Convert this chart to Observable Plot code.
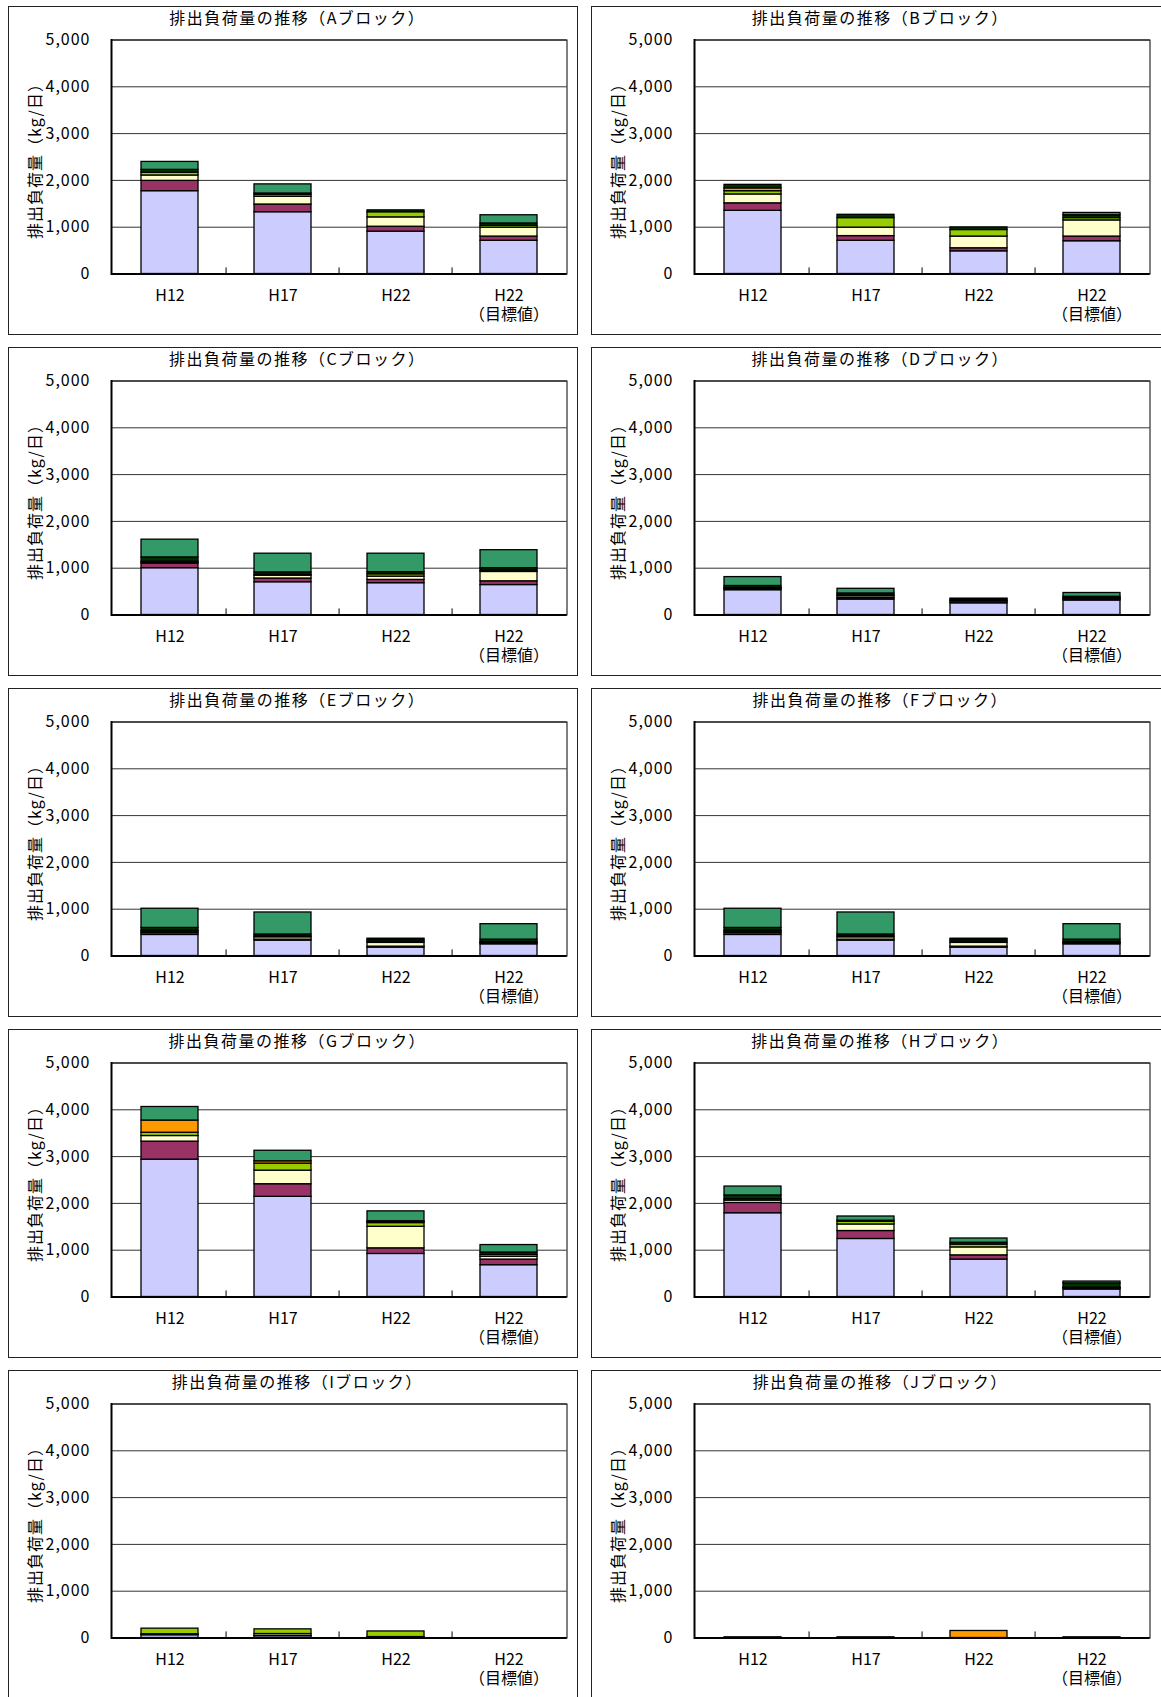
<!DOCTYPE html>
<html>
<head>
<meta charset="utf-8">
<script src="https://cdn.jsdelivr.net/npm/d3@7"></script>
<script src="https://cdn.jsdelivr.net/npm/@observablehq/plot@0.6"></script>
<style>
  html, body { margin: 0; padding: 0; background: #fff; }
  body { width: 1161px; height: 1697px; position: relative; overflow: hidden; font-family: 'Noto Sans CJK JP', 'Noto Sans', sans-serif; }
  .panel { position: absolute; width: 570px; height: 329px; box-sizing: border-box; border: 1.5px solid #222; background: #fff; }
  .panel.right { width: 576px; }
  .panel svg { display: block; }
</style>
</head>
<body>
<div id="root"></div>
<script>
// ---- data ----
const categories = ["H12", "H17", "H22", "H22目標値"];
const categoryLabels = ["H12", "H17", "H22", "H22\n（目標値）"];
const seriesNames = ["系列1", "系列2", "系列3", "系列4", "系列5", "系列6", "系列7"];
const seriesColors = ["#CCCCFF", "#993366", "#FFFFCC", "#99CC00", "#FF9900", "#003300", "#339966"];
const blockNames = ["A", "B", "C", "D", "E", "F", "G", "H", "I", "J"];
const yTicks = [0, 1000, 2000, 3000, 4000, 5000];
const yLabel = "排出負荷量（kg/日）";

// rows = series (bottom → top), columns = categories (kg/日)
const loadA = [
  [1770, 1320, 905, 710],
  [220, 165, 105, 90],
  [115, 165, 200, 190],
  [60, 40, 110, 40],
  [0, 0, 0, 0],
  [60, 30, 40, 50],
  [170, 195, 0, 175]
];
const loadB = [
  [1350, 710, 485, 700],
  [160, 100, 65, 100],
  [190, 180, 250, 345],
  [70, 205, 140, 50],
  [60, 0, 0, 0],
  [75, 70, 55, 60],
  [0, 0, 0, 50]
];
const loadC = [
  [1000, 700, 680, 640],
  [100, 80, 70, 80],
  [20, 60, 70, 200],
  [20, 20, 50, 30],
  [0, 0, 0, 0],
  [90, 50, 45, 50],
  [380, 400, 395, 385]
];
const loadD = [
  [530, 330, 250, 310],
  [20, 30, 15, 20],
  [20, 40, 30, 20],
  [10, 20, 10, 10],
  [0, 0, 0, 0],
  [40, 40, 30, 30],
  [190, 100, 15, 80]
];
const loadE = [
  [450, 330, 180, 250],
  [40, 20, 20, 20],
  [30, 50, 80, 20],
  [20, 20, 30, 10],
  [0, 0, 0, 0],
  [60, 40, 40, 50],
  [410, 470, 20, 330]
];
const loadF = [
  [450, 330, 180, 250],
  [40, 20, 20, 20],
  [30, 50, 80, 20],
  [20, 20, 30, 10],
  [0, 0, 0, 0],
  [60, 40, 40, 50],
  [410, 470, 20, 330]
];
const loadG = [
  [2935, 2140, 920, 680],
  [385, 270, 120, 120],
  [120, 290, 460, 60],
  [70, 150, 80, 40],
  [260, 50, 20, 0],
  [0, 0, 20, 50],
  [290, 225, 210, 160]
];
const loadH = [
  [1790, 1240, 800, 160],
  [220, 170, 90, 20],
  [50, 140, 170, 10],
  [30, 60, 60, 10],
  [0, 0, 0, 0],
  [80, 20, 40, 90],
  [190, 90, 90, 40]
];
const loadI = [
  [60, 40, 10, 0],
  [5, 5, 0, 0],
  [15, 40, 10, 0],
  [120, 100, 120, 0],
  [0, 0, 0, 0],
  [0, 0, 0, 0],
  [0, 0, 0, 0]
];
const loadJ = [
  [0, 0, 0, 0],
  [0, 0, 0, 0],
  [0, 0, 0, 0],
  [0, 0, 0, 0],
  [15, 15, 150, 15],
  [0, 0, 0, 0],
  [0, 0, 0, 0]
];
const blockLoads = [loadA, loadB, loadC, loadD, loadE, loadF, loadG, loadH, loadI, loadJ];

// ---- layout ----
const W = 567, H = 326;
const mL = 102, mR = 9.5, mT = 32.5, mB = 59.5;
const plotW = W - mL - mR;
const halfStep = plotW / categories.length / 2;
const font = "'Noto Sans CJK JP', 'Noto Sans', sans-serif";
const root = document.getElementById("root");

blockNames.forEach((b, i) => {
  const rows = [];
  seriesNames.forEach((s, si) => categories.forEach((c, ci) => {
    const v = blockLoads[i][si][ci];
    if (v > 0) rows.push({category: c, series: s, value: v});
  }));
  const title = `排出負荷量の推移（${b}ブロック）`;
  const chart = Plot.plot({
    width: W, height: H,
    marginLeft: mL, marginRight: mR, marginTop: mT, marginBottom: mB,
    style: {fontFamily: font, fontSize: "16px", color: "#000", background: "#fff", overflow: "visible"},
    x: {domain: categories, paddingInner: 0.5, paddingOuter: 0.25, axis: null},
    y: {domain: [0, 5000], axis: null},
    color: {domain: seriesNames, range: seriesColors},
    marks: [
      Plot.gridY(yTicks, {stroke: "#000", strokeOpacity: 0.8, strokeWidth: 1}),
      Plot.barY(rows, {x: "category", y: "value", fill: "series", stroke: "#000", strokeWidth: 1.3}),
      Plot.frame({stroke: "#000", strokeWidth: 1}),
      Plot.ruleY([0], {stroke: "#000", strokeWidth: 2}),
      Plot.frame({anchor: "left", stroke: "#000", strokeWidth: 2}),
      Plot.ruleX(categories.slice(1), {x: d => d, y1: 0, y2: 130, dx: -halfStep, stroke: "#000", strokeWidth: 1}),
      Plot.axisY(yTicks, {tickSize: 0, tickPadding: 21, tickFormat: d3.format(","), label: null, fill: "#000"}),
      Plot.axisX(categories, {tickSize: 0, tickPadding: 13, tickFormat: d => categoryLabels[categories.indexOf(d)], label: null, fill: "#000", lineHeight: 1.22}),
      Plot.text([title], {frameAnchor: "top", dx: -42, dy: -21.5, lineAnchor: "middle", fill: "#000"}),
      Plot.text([yLabel], {frameAnchor: "left", dx: -76, rotate: -90, lineAnchor: "middle", textAnchor: "middle", fill: "#000"})
    ]
  });
  // wider glyph spacing, like the monospaced original
  d3.select(chart).selectAll('g[aria-label="text"] text')
    .style("letter-spacing", (d, k) => k === 0 ? "1.5px" : "1px");
  d3.select(chart).selectAll('g[aria-label="y-axis tick label"] text').style("letter-spacing", "1px");
  const div = document.createElement("div");
  div.className = "panel" + (i % 2 ? " right" : "");
  div.style.left = (8 + (i % 2) * 583) + "px";
  div.style.top = (6 + Math.floor(i / 2) * 341) + "px";
  div.append(chart);
  root.append(div);
});
</script>
</body>
</html>
